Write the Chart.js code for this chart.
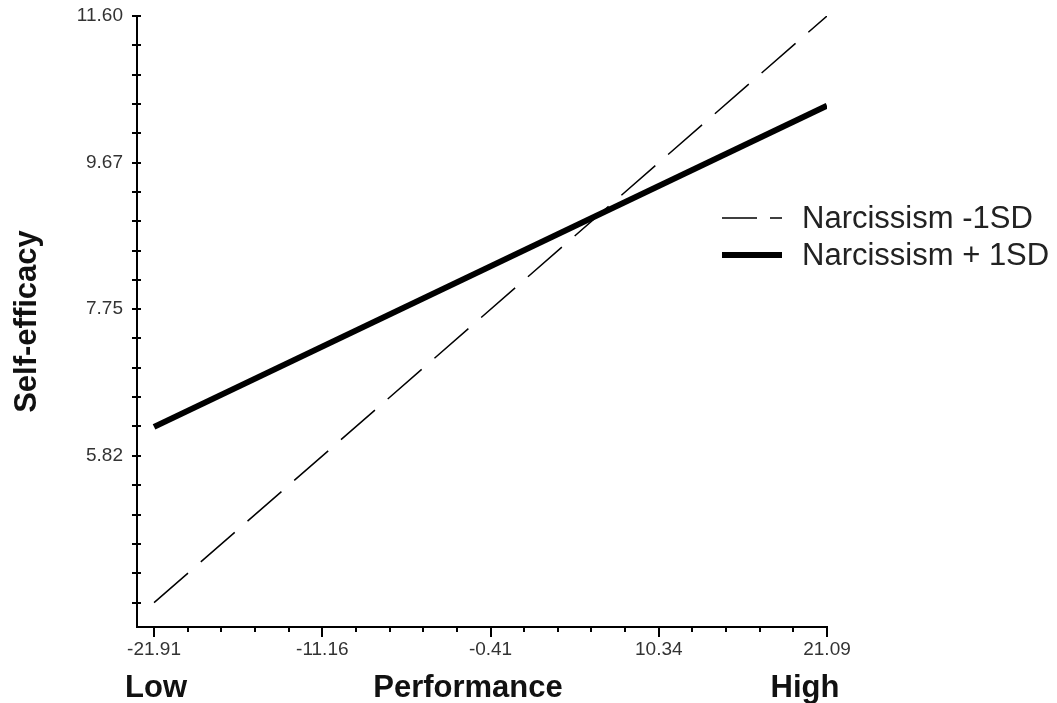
<!DOCTYPE html>
<html>
<head>
<meta charset="utf-8">
<script src="https://cdn.jsdelivr.net/npm/chart.js@4.4.0/dist/chart.umd.min.js"></script>
<style>
  html, body { margin: 0; padding: 0; background: #fff; }
  #wrap { width: 1057px; height: 703px; }
</style>
</head>
<body>
<div id="wrap"><canvas id="slopeChart" width="1057" height="703"></canvas></div>
<script>
// Simple slopes: performance (low / high) vs self-efficacy
const performanceX = [-21.91, 21.09];
const lowNarcissism = [3.89, 11.60];
const highNarcissism = [6.20, 10.42];

const seriesLabels = ['Narcissism -1SD', 'Narcissism + 1SD'];
const xTickValues = [-21.91, -11.16, -0.41, 10.34, 21.09];
const yTickValues = [5.82, 7.75, 9.67, 11.60];
const xAxisWords = ['Low', 'Performance', 'High'];
const yAxisTitle = 'Self-efficacy';

const FONT = '"Liberation Sans", Arial, sans-serif';

// Major + minor tick marks on both axes
const tickMarks = {
    id: 'tickMarks',
    afterDraw(chart) {
        const { ctx, chartArea, scales: { x, y } } = chart;
        ctx.save();
        ctx.strokeStyle = '#000';
        ctx.lineWidth = 2;
        ctx.beginPath();
        xTickValues.forEach((v, i) => {
            const px = Math.round(x.getPixelForValue(v));
            ctx.moveTo(px, chartArea.bottom);
            ctx.lineTo(px, chartArea.bottom + 10);
            if (i < xTickValues.length - 1) {
                const step = (xTickValues[i + 1] - v) / 5;
                for (let k = 1; k < 5; k++) {
                    const mx = Math.round(x.getPixelForValue(v + step * k));
                    ctx.moveTo(mx, chartArea.bottom);
                    ctx.lineTo(mx, chartArea.bottom + 5);
                }
            }
        });
        const yVals = [];
        yTickValues.forEach((v, i) => {
            yVals.push(v);
            if (i < yTickValues.length - 1) {
                const step = (yTickValues[i + 1] - v) / 5;
                for (let k = 1; k < 5; k++) yVals.push(v + step * k);
            }
        });
        const yStep = (yTickValues[1] - yTickValues[0]) / 5;
        for (let v = yTickValues[0] - yStep; v >= y.min; v -= yStep) yVals.push(v);
        yVals.forEach(v => {
            const py = Math.round(y.getPixelForValue(v));
            ctx.moveTo(chartArea.left - 5, py);
            ctx.lineTo(chartArea.left + 4, py);
        });
        ctx.stroke();
        ctx.restore();
    }
};

// Low / Performance / High under the x axis, plus the legend
const extraText = {
    id: 'extraText',
    afterDraw(chart) {
        const { ctx, chartArea, scales: { x } } = chart;
        ctx.save();
        ctx.fillStyle = '#111';
        ctx.font = 'bold 31px ' + FONT;
        ctx.textAlign = 'center';
        ctx.textBaseline = 'alphabetic';
        ctx.fillText(xAxisWords[0], x.getPixelForValue(xTickValues[0]) + 2, 697);
        ctx.fillText(xAxisWords[1], (chartArea.left + chartArea.right) / 2 - 14, 697);
        ctx.fillText(xAxisWords[2], chartArea.right - 22, 697);

        // legend
        ctx.font = '31px ' + FONT;
        ctx.textAlign = 'left';
        ctx.textBaseline = 'middle';
        const rows = [218, 255];
        chart.data.datasets.forEach((ds, i) => {
            const ly = rows[i];
            ctx.strokeStyle = '#000';
            ctx.lineWidth = ds.borderWidth;
            ctx.setLineDash(ds.borderDash ? [35, 13] : []);
            ctx.beginPath();
            ctx.moveTo(chartArea.right - 105, ly);
            ctx.lineTo(chartArea.right - 45, ly);
            ctx.stroke();
            ctx.setLineDash([]);
            ctx.fillStyle = '#222';
            ctx.fillText(ds.label, chartArea.right - 25, ly + 1);
        });
        ctx.restore();
    }
};

function toPoints(ys) {
    return performanceX.map((v, i) => ({ x: v, y: ys[i] }));
}

function noPadding(s) {
    s.paddingTop = 0;
    s.paddingBottom = 0;
    s.paddingLeft = 0;
    s.paddingRight = 0;
}

const ctx = document.getElementById('slopeChart').getContext('2d');
const chart = new Chart(ctx, {
    type: 'line',
    data: {
        datasets: [{
            label: seriesLabels[0],
            data: toPoints(lowNarcissism),
            borderColor: '#000',
            borderWidth: 1.5,
            borderDash: [45, 17],
            pointRadius: 0,
            fill: false
        }, {
            label: seriesLabels[1],
            data: toPoints(highNarcissism),
            borderColor: '#000',
            borderWidth: 6,
            pointRadius: 0,
            fill: false
        }]
    },
    options: {
        responsive: false,
        animation: false,
        layout: { padding: { left: 0, top: 16, right: 230, bottom: 0 } },
        plugins: {
            legend: { display: false },
            tooltip: { enabled: false }
        },
        scales: {
            x: {
                type: 'linear',
                min: -23.0,
                max: 21.09,
                afterBuildTicks: s => { s.ticks = xTickValues.map(v => ({ value: v })); },
                afterFit: s => { s.height = 76; noPadding(s); },
                grid: { display: false, drawTicks: false },
                border: { display: true, color: '#000', width: 2 },
                ticks: {
                    autoSkip: false,
                    maxRotation: 0,
                    padding: 11,
                    color: '#333',
                    font: { family: FONT, size: 19 },
                    callback: v => v.toFixed(2)
                }
            },
            y: {
                type: 'linear',
                min: 3.57,
                max: 11.60,
                afterBuildTicks: s => { s.ticks = yTickValues.map(v => ({ value: v })); },
                afterFit: s => { s.width = 137; noPadding(s); },
                grid: { display: false, drawTicks: false },
                border: { display: true, color: '#000', width: 2 },
                title: {
                    display: true,
                    text: yAxisTitle,
                    color: '#111',
                    font: { family: FONT, size: 31, weight: 'bold' },
                    padding: { top: 9, bottom: 0 }
                },
                ticks: {
                    autoSkip: false,
                    padding: 14,
                    color: '#333',
                    font: { family: FONT, size: 19 },
                    callback: v => v.toFixed(2)
                }
            }
        }
    },
    plugins: [tickMarks, extraText]
});
</script>
</body>
</html>
